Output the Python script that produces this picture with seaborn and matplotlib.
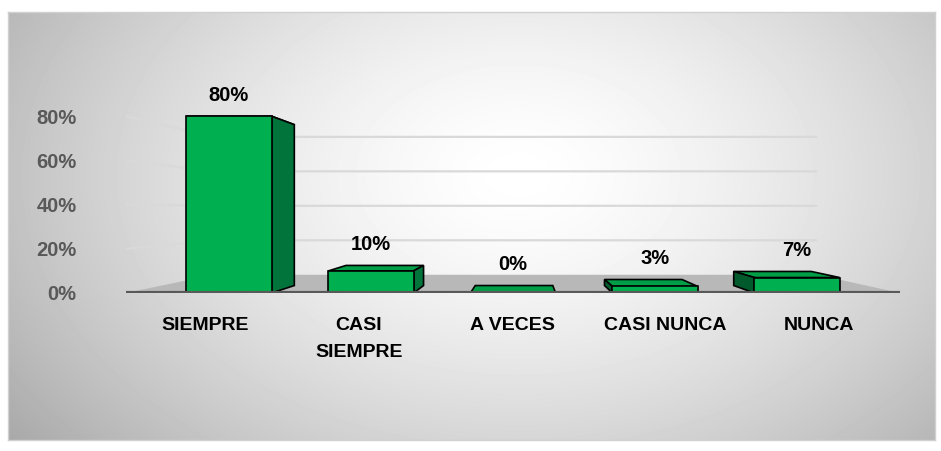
import numpy as np
import pandas as pd
import seaborn as sns
import matplotlib.pyplot as plt
from matplotlib.patches import Polygon

# datos
categorias = ['SIEMPRE', 'CASI\nSIEMPRE', 'A VECES', 'CASI NUNCA', 'NUNCA']
porcentajes = [0.80, 0.10, 0.00, 0.03, 0.07]
ticks_y = [0.0, 0.2, 0.4, 0.6, 0.8]

VERDE = '#00B050'
VERDE_LADO = '#00743A'
VERDE_TAPA = '#009E47'
GRIS_TEXTO = '#595959'

# parametros de la perspectiva (punto de fuga en coordenadas de datos)
VX, VY = 2.08, 0.375
K_BARRA = 0.09
K_PARED = 0.22
XL, XR = -0.725, 4.725


def fondo(x, y, k):
    return x + k * (VX - x), y + k * (VY - y)


def dibujar_fondo(fig):
    bg = fig.add_axes([8 / 941, 1 - 440 / 451, 927 / 941, 428 / 451])
    h, w = 428, 927
    yy, xx = np.mgrid[0:h, 0:w]
    r = np.sqrt(((xx - 0.55 * w) / (0.58 * w)) ** 2 + ((yy - 0.38 * h) / (0.85 * h)) ** 2)
    gris = 1 - 0.26 * np.clip(r, 0, 1.2) ** 1.5
    bg.imshow(gris, cmap='gray', vmin=0, vmax=1, aspect='auto', interpolation='bilinear')
    bg.set_xticks([])
    bg.set_yticks([])
    for s in bg.spines.values():
        s.set_color('#D0D0D0')
        s.set_linewidth(1)
    return bg


def main():
    sns.set_theme(style='white')
    plt.rcParams['font.family'] = ['Liberation Sans', 'DejaVu Sans']
    plt.rcParams['font.weight'] = 'bold'

    df = pd.DataFrame({'categoria': categorias, 'porcentaje': porcentajes})

    fig = plt.figure(figsize=(9.41, 4.51), dpi=100)
    fig.patch.set_facecolor('white')
    dibujar_fondo(fig)

    ax = fig.add_axes([126 / 941, (451 - 293) / 451, 774 / 941, 221 / 451])
    ax.set_zorder(2)
    ax.patch.set_alpha(0)

    sns.barplot(data=df, x='categoria', y='porcentaje', color=VERDE, saturation=1,
                width=0.6, edgecolor='black', linewidth=1.2, ax=ax, zorder=5)

    # piso y lineas de la pared
    piso = [(XL, 0), (XR, 0), fondo(XR, 0, K_PARED), fondo(XL, 0, K_PARED)]
    ax.add_patch(Polygon(piso, closed=True, facecolor='#B8B8B8', edgecolor='none', zorder=1))
    for v in ticks_y[1:]:
        bx, by = fondo(XL, v, K_PARED)
        ex, _ = fondo(XR, v, K_PARED)
        ax.plot([XL, bx, ex], [v, by, by], color='#D9D9D9', lw=1.6, zorder=0.5,
                solid_capstyle='butt')
    ax.plot([XL, XR], [0, 0], color=GRIS_TEXTO, lw=3, zorder=6, solid_capstyle='round')

    # caras laterales y superiores de las barras
    for p, val in zip(ax.patches[:len(porcentajes)], porcentajes):
        x0 = p.get_x()
        x1 = x0 + p.get_width()
        h = p.get_height()
        tapa = [(x0, h), (x1, h), fondo(x1, h, K_BARRA), fondo(x0, h, K_BARRA)]
        ax.add_patch(Polygon(tapa, closed=True, facecolor=VERDE_TAPA, edgecolor='black',
                             lw=1.2, zorder=3))
        if x1 < VX:
            lado = [(x1, 0), (x1, h), fondo(x1, h, K_BARRA), fondo(x1, 0, K_BARRA)]
            color_lado = VERDE_LADO
        elif x0 > VX:
            lado = [(x0, 0), (x0, h), fondo(x0, h, K_BARRA), fondo(x0, 0, K_BARRA)]
            color_lado = '#005A2B'
        else:
            lado = None
        if lado is not None:
            ax.add_patch(Polygon(lado, closed=True, facecolor=color_lado, edgecolor='black',
                                 lw=1.2, zorder=4))
        cx = x0 + p.get_width() / 2
        y_top = max(h, fondo(cx, h, K_BARRA)[1])
        ax.annotate(f'{val:.0%}', (cx, y_top), xytext=(0, 15), textcoords='offset points',
                    ha='center', va='center', fontsize=14.5, fontweight='bold', color='black')

    ax.set_xlim(XL, XR)
    ax.set_ylim(0, 1)
    ax.set_yticks(ticks_y, [f'{t:.0%}' for t in ticks_y])
    ax.set_xticks([VX + (i - VX) * 1.08 for i in range(len(categorias))], categorias)
    ax.tick_params(axis='y', length=0, pad=35.5, labelcolor=GRIS_TEXTO, labelsize=14.5)
    ax.tick_params(axis='x', length=0, pad=17, labelcolor='black', labelsize=14)
    for lbl in ax.get_xticklabels() + ax.get_yticklabels():
        lbl.set_fontweight('bold')
    for lbl in ax.get_xticklabels():
        lbl.set_linespacing(1.8)
        lbl.set_verticalalignment('top')
    ax.set_xlabel('')
    ax.set_ylabel('')
    for s in ax.spines.values():
        s.set_visible(False)

    fig.savefig('out.png', dpi=100, facecolor='white')


if __name__ == '__main__':
    main()
